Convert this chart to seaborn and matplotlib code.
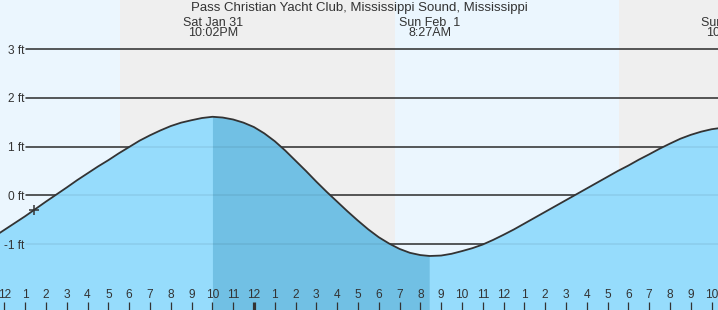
import matplotlib
matplotlib.use("Agg")
import matplotlib.pyplot as plt
import matplotlib.transforms as mtransforms
import numpy as np
import pandas as pd
import seaborn as sns

# ---------------- data (hours since noon Sat Jan 31) ----------------
hours = [-1, -0.5, 0, 0.5, 1, 1.5, 2, 2.5, 3, 3.5, 4, 4.5, 5, 5.5, 6, 6.5, 7,
         7.5, 8, 8.5, 9, 9.5, 10, 10.03, 10.5, 11, 11.5, 12, 12.5, 13, 13.5,
         14, 14.5, 15, 15.5, 16, 16.5, 17, 17.5, 18, 18.5, 19, 19.5, 20,
         20.45, 21, 21.5, 22, 22.5, 23, 23.5, 24, 24.5, 25, 25.5, 26, 26.5,
         27, 27.5, 28, 28.5, 29, 29.5, 30, 30.5, 31, 31.5, 32, 32.5, 33,
         33.5, 34, 34.5, 34.95]
levels = [-0.98, -0.85, -0.71, -0.57, -0.43, -0.28, -0.13, 0.015, 0.16, 0.31,
          0.45, 0.59, 0.72, 0.86, 0.99, 1.12, 1.23, 1.33, 1.42, 1.49, 1.54,
          1.585, 1.61, 1.61, 1.595, 1.555, 1.49, 1.40, 1.27, 1.11, 0.92, 0.71,
          0.50, 0.28, 0.07, -0.13, -0.33, -0.52, -0.70, -0.86, -0.99, -1.10,
          -1.18, -1.226, -1.245, -1.236, -1.20, -1.145, -1.085, -1.01, -0.915,
          -0.81, -0.70, -0.58, -0.46, -0.34, -0.22, -0.10, 0.02, 0.14, 0.26,
          0.38, 0.50, 0.61, 0.73, 0.84, 0.955, 1.06, 1.16, 1.24, 1.305, 1.355,
          1.385, 1.40]

extreme_hours = [10.03, 20.45, 34.95]
extreme_dates = ["Sat Jan 31", "Sun Feb  1", "Sun Feb  1"]
extreme_times = ["10:02PM", "8:27AM", "10:57PM"]

sunset_1, sunrise_1, sunset_2 = 5.56, 18.77, 29.55

now_hour, now_level = 1.43, -0.31

tick_hours = list(range(0, 35))
tick_labels = ["12", "1", "2", "3", "4", "5", "6", "7", "8", "9", "10", "11",
               "12", "1", "2", "3", "4", "5", "6", "7", "8", "9", "10", "11",
               "12", "1", "2", "3", "4", "5", "6", "7", "8", "9", "10"]
ft_ticks = [-1, 0, 1, 2, 3]
ft_labels = ["-1 ft", "0 ft", "1 ft", "2 ft", "3 ft"]

title = "Pass Christian Yacht Club, Mississippi Sound, Mississippi"

# ---------------- style ----------------
sns.set_style("white")
plt.rcParams["font.family"] = ["Liberation Sans", "DejaVu Sans"]

DAY = "#ebf6fe"
NIGHT = "#efefef"
FILL = "#96dcfc"
FILL_DARK = "#71c0e4"
INK = "#333333"

df = pd.DataFrame({"hour": hours, "level": levels})

fig = plt.figure(figsize=(7.18, 3.10), dpi=100)
ax = fig.add_axes([0, 0, 1, 1])
xmin, xmax = -0.207, 34.31
ymin, ymax = -2.353, 4.006
ax.set_xlim(xmin, xmax)
ax.set_ylim(ymin, ymax)
ax.set_facecolor(DAY)
for s in ax.spines.values():
    s.set_visible(False)

# day / night background
ax.axvspan(xmin - 5, sunset_1, color=DAY, zorder=0, lw=0)
ax.axvspan(sunset_1, sunrise_1, color=NIGHT, zorder=0, lw=0)
ax.axvspan(sunrise_1, sunset_2, color=DAY, zorder=0, lw=0)
ax.axvspan(sunset_2, xmax + 5, color=NIGHT, zorder=0, lw=0)

# grid lines
x0 = 26 / 718
for v in ft_ticks:
    ax.axhline(v, xmin=x0, xmax=1, color=INK, lw=1.1, zorder=1)

# tide fill
h = np.array(hours)
lv = np.array(levels)
ax.fill_between(h, lv, ymin - 5, color=FILL, lw=0, zorder=2)
mask = (h >= extreme_hours[0]) & (h <= extreme_hours[1])
ax.fill_between(h, lv, ymin - 5, where=mask, color=FILL_DARK, lw=0, zorder=2.1)

# faint grid lines over the water
for v in ft_ticks:
    ax.axhline(v, xmin=x0, xmax=1, color="#000000", alpha=0.07, lw=1.1, zorder=2.5)

# tide curve
sns.lineplot(data=df, x="hour", y="level", ax=ax, color=INK, lw=1.3, zorder=4)
ax.plot([now_hour], [now_level], marker="+", ms=7, mew=1.1, color=INK, zorder=5)

ax.set_xlabel("")
ax.set_ylabel("")

# ticks
ax.set_xticks(tick_hours)
ax.set_xticklabels(tick_labels)
ax.tick_params(axis="x", bottom=True, direction="in", length=5.8, width=0.9,
               color=INK, pad=-15, labelsize=8.6, labelcolor=INK)
ticks = ax.xaxis.get_major_ticks()
ticks[12].tick1line.set_markeredgewidth(2.3)

ax.set_yticks(ft_ticks)
ax.set_yticklabels(ft_labels)
ax.tick_params(axis="y", left=False, direction="in", length=0, pad=-17.5,
               labelsize=8.6, labelcolor=INK)
for lab in ax.get_yticklabels():
    lab.set_horizontalalignment("right")
ax.xaxis.set_zorder(6)
ax.yaxis.set_zorder(6)

# labels
trans = mtransforms.blended_transform_factory(ax.transData, ax.transAxes)
for eh, d, t in zip(extreme_hours, extreme_dates, extreme_times):
    ax.text(eh, 1 - 25.5 / 310, d, transform=trans, ha="center", va="baseline",
            fontsize=9, color=INK)
    ax.text(eh, 1 - 36.5 / 310, t, transform=trans, ha="center", va="baseline",
            fontsize=9, color=INK)
fig.text(0.5, 1 - 11 / 310, title, ha="center", va="baseline", fontsize=9.5,
         color=INK)

fig.savefig("out.png", dpi=100)
